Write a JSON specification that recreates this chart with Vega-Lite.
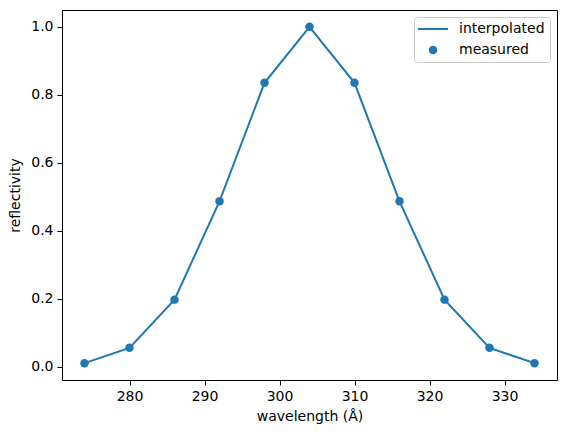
{
  "$schema": "https://vega.github.io/schema/vega-lite/v6.json",
  "width": 495,
  "height": 370,
  "autosize": {"type": "none"},
  "padding": {"left": 62, "top": 10, "right": 10, "bottom": 56},
  "background": "white",
  "data": {
    "values": [
      {"wavelength": 274, "reflectivity": 0.0111},
      {"wavelength": 280, "reflectivity": 0.0561},
      {"wavelength": 286, "reflectivity": 0.1979},
      {"wavelength": 292, "reflectivity": 0.4868},
      {"wavelength": 298, "reflectivity": 0.8353},
      {"wavelength": 304, "reflectivity": 1.0},
      {"wavelength": 310, "reflectivity": 0.8353},
      {"wavelength": 316, "reflectivity": 0.4868},
      {"wavelength": 322, "reflectivity": 0.1979},
      {"wavelength": 328, "reflectivity": 0.0561},
      {"wavelength": 334, "reflectivity": 0.0111}
    ]
  },
  "encoding": {
    "x": {
      "field": "wavelength",
      "type": "quantitative",
      "scale": {"domain": [271, 337], "nice": false, "zero": false},
      "axis": {"title": "wavelength (Å)", "values": [280, 290, 300, 310, 320, 330], "format": "d"}
    },
    "y": {
      "field": "reflectivity",
      "type": "quantitative",
      "scale": {"domain": [-0.0384, 1.0494], "nice": false, "zero": false},
      "axis": {"title": "reflectivity", "values": [0, 0.2, 0.4, 0.6, 0.8, 1.0], "format": ".1f"}
    }
  },
  "layer": [
    {
      "mark": {"type": "line", "strokeWidth": 2},
      "encoding": {
        "color": {
          "datum": "interpolated",
          "type": "nominal",
          "scale": {"domain": ["interpolated", "measured"], "range": ["#1f77b4", "#1f77b4"]},
          "legend": {
            "title": null,
            "orient": "none",
            "legendX": 352,
            "legendY": 7,
            "padding": 5,
            "fillColor": "rgba(255,255,255,0.8)",
            "strokeColor": "#cccccc",
            "cornerRadius": 3,
            "labelFontSize": 14,
            "labelFont": "DejaVu Sans",
            "labelColor": "black",
            "rowPadding": 7,
            "symbolStrokeWidth": 2,
            "encode": {
              "symbols": {
                "update": {
                  "x": {"value": 14},
                  "shape": {"signal": "datum.value === 'interpolated' ? 'stroke' : 'circle'"},
                  "size": {"signal": "datum.value === 'interpolated' ? 900 : 72"},
                  "fill": {"signal": "datum.value === 'interpolated' ? 'transparent' : '#1f77b4'"},
                  "stroke": {"value": "#1f77b4"},
                  "strokeWidth": {"signal": "datum.value === 'interpolated' ? 2 : 0"},
                  "opacity": {"value": 1}
                }
              },
              "labels": {
                "update": {
                  "x": {"value": 40}
                }
              }
            }
          }
        }
      }
    },
    {
      "mark": {"type": "point", "filled": true, "size": 72, "opacity": 1, "shape": "circle"},
      "encoding": {
        "color": {"datum": "measured", "type": "nominal"}
      }
    }
  ],
  "config": {
    "font": "DejaVu Sans",
    "view": {"stroke": "black", "strokeWidth": 1},
    "axis": {
      "grid": false,
      "domainColor": "black",
      "domainWidth": 1,
      "tickColor": "black",
      "tickSize": 5,
      "tickWidth": 1,
      "labelFontSize": 14,
      "labelColor": "black",
      "labelFont": "DejaVu Sans",
      "labelPadding": 4,
      "titleFontSize": 14,
      "titleFont": "DejaVu Sans",
      "titleFontWeight": "normal",
      "titleColor": "black"
    },
    "axisX": {"titlePadding": 6},
    "axisY": {"titlePadding": 8}
  }
}
